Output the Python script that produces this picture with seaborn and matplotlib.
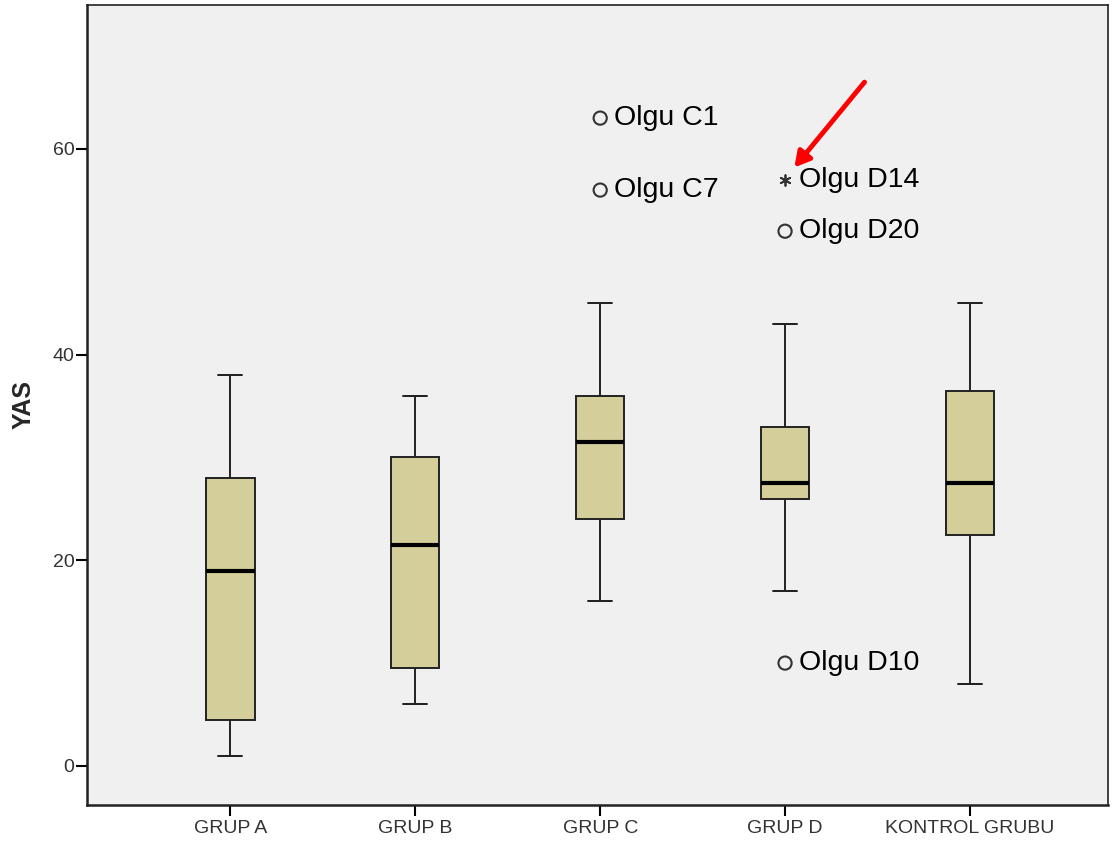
import pandas as pd
import numpy as np
import matplotlib
matplotlib.use("Agg")
import matplotlib.pyplot as plt
import seaborn as sns

# five-number summaries: low whisker, Q1, median, Q3, high whisker
groups = ["GRUP A", "GRUP B", "GRUP C", "GRUP D", "KONTROL GRUBU"]
whisker_low = [1, 6, 16, 17, 8]
q1 = [4.5, 9.5, 24, 26, 22.5]
median = [19, 21.5, 31.5, 27.5, 27.5]
q3 = [28, 30, 36, 33, 36.5]
whisker_high = [38, 36, 45, 43, 45]

# labelled outliers
outlier_group = ["GRUP C", "GRUP C", "GRUP D", "GRUP D", "GRUP D"]
outlier_value = [63, 56, 57, 52, 10]
outlier_label = ["Olgu C1", "Olgu C7", "Olgu D14", "Olgu D20", "Olgu D10"]
outlier_extreme = [False, False, True, False, False]

rows = []
for i, g in enumerate(groups):
    for v in (whisker_low[i], q1[i], median[i], q3[i], whisker_high[i]):
        rows.append({"grup": g, "YAS": v})
df = pd.DataFrame(rows)

sns.set_style("white")
plt.rcParams["font.family"] = ["Liberation Sans", "DejaVu Sans"]

fig = plt.figure(figsize=(11.13, 8.47), dpi=100)
ax = fig.add_axes([0.0782, 0.0496, 0.9173, 0.9445])
ax.set_facecolor("#f0f0f0")

sns.boxplot(data=df, x="grup", y="YAS", order=groups, whis=(0, 100), width=0.26,
            color="#d3ce9a", saturation=1, showfliers=False, linecolor="#222222",
            linewidth=1.4, medianprops={"color": "black", "linewidth": 3},
            ax=ax)

# whisker caps
pos = np.arange(len(groups))
ax.hlines(whisker_low, pos - 0.062, pos + 0.062, color="#222222", lw=1.4)
ax.hlines(whisker_high, pos - 0.062, pos + 0.062, color="#222222", lw=1.4)

od = pd.DataFrame({"grup": outlier_group, "YAS": outlier_value,
                   "label": outlier_label, "extreme": outlier_extreme})
xpos = od["grup"].map({g: i for i, g in enumerate(groups)})
norm = od[~od["extreme"]]
ext = od[od["extreme"]]
ax.scatter(xpos[~od["extreme"]], norm["YAS"], s=90, facecolors="none",
           edgecolors="#333333", linewidths=1.5, zorder=5)
ax.scatter(xpos[od["extreme"]], ext["YAS"], s=60, marker=(6, 2, 0),
           color="#333333", linewidths=1.3, zorder=5)
for x, y, lab in zip(xpos, od["YAS"], od["label"]):
    ax.annotate(lab, (x, y), xytext=(10, 0), textcoords="offset points",
                va="center", ha="left", fontsize=20.5, color="black")

# red arrow pointing at the extreme case
ax.annotate("", xy=(3.05, 58.2), xytext=(3.43, 66.5),
            arrowprops=dict(arrowstyle="-|>,head_length=0.9,head_width=0.5",
                            color="#ff0000", lw=3.5, shrinkA=0, shrinkB=0))

ax.set_xlim(-0.776, 4.747)
ax.set_ylim(-3.8, 74)
ax.set_yticks([0, 20, 40, 60])
ax.set_xlabel("")
ax.set_ylabel("YAS", fontsize=18, fontweight="bold", labelpad=12)
ax.tick_params(axis="both", direction="out", length=8, width=1.5, color="black",
               labelcolor="#333333", bottom=True, left=True)
ax.tick_params(axis="x", labelsize=14, pad=3)
ax.tick_params(axis="y", labelsize=14, pad=1)
for s in ax.spines.values():
    s.set_color("#222222")
    s.set_linewidth(1.8)
ax.spines["top"].set_linewidth(1.2)
ax.spines["right"].set_linewidth(1.2)

fig.savefig("out.png", dpi=100)
